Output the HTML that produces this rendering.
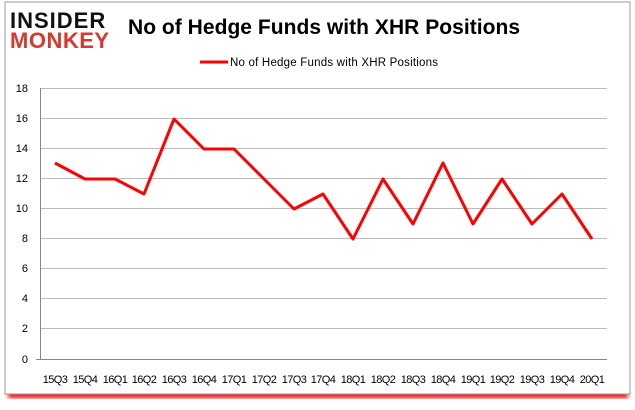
<!DOCTYPE html>
<html><head><meta charset="utf-8"><style>
body{margin:0;background:#fff;width:635px;height:405px;overflow:hidden;font-family:"Liberation Sans",sans-serif}
</style></head><body>
<svg width="635" height="405" xmlns="http://www.w3.org/2000/svg">
<defs><filter id="s" x="-5%" y="-5%" width="110%" height="115%"><feGaussianBlur stdDeviation="2"/></filter></defs>
<rect x="8" y="392" width="620" height="6" fill="#f00" filter="url(#s)"/>
<rect x="5" y="2" width="625" height="392" fill="#fff" stroke="#999" stroke-width="1"/>
<text x="10" y="28" font-family="Liberation Sans" font-weight="900" font-size="22" fill="#111" letter-spacing="1">INSIDER</text>
<text x="10" y="48" font-family="Liberation Sans" font-weight="900" font-size="22" fill="#d9382d" letter-spacing="0.5">MONKEY</text>
<text x="128" y="34" font-size="21" font-weight="bold" fill="#000" textLength="392">No of Hedge Funds with XHR Positions</text>
<line x1="200" y1="62" x2="228" y2="62" stroke="#f00" stroke-width="3"/>
<text x="230" y="66" font-size="11.5" fill="#000" textLength="208">No of Hedge Funds with XHR Positions</text>
<g stroke="#bbb" stroke-width="1">
<line x1="40" y1="88.5" x2="607" y2="88.5"/><line x1="40" y1="118.5" x2="607" y2="118.5"/><line x1="40" y1="148.5" x2="607" y2="148.5"/><line x1="40" y1="178.5" x2="607" y2="178.5"/><line x1="40" y1="208.5" x2="607" y2="208.5"/><line x1="40" y1="238.5" x2="607" y2="238.5"/><line x1="40" y1="268.5" x2="607" y2="268.5"/><line x1="40" y1="298.5" x2="607" y2="298.5"/><line x1="40" y1="328.5" x2="607" y2="328.5"/>
</g>
<g stroke="#888" stroke-width="1">
<line x1="40.5" y1="88" x2="40.5" y2="359"/><line x1="36" y1="359.5" x2="607" y2="359.5"/>
</g>
<g font-size="11" fill="#000" text-anchor="end">
<text x="28" y="92">18</text><text x="28" y="122">16</text><text x="28" y="152">14</text><text x="28" y="182">12</text><text x="28" y="212">10</text><text x="28" y="242">8</text><text x="28" y="272">6</text><text x="28" y="302">4</text><text x="28" y="332">2</text><text x="28" y="363">0</text>
</g>
<g font-size="11" fill="#000" text-anchor="middle" letter-spacing="-0.6">
<text x="55" y="383">15Q3</text><text x="85" y="383">15Q4</text><text x="115" y="383">16Q1</text><text x="144" y="383">16Q2</text><text x="174" y="383">16Q3</text><text x="204" y="383">16Q4</text><text x="234" y="383">17Q1</text><text x="264" y="383">17Q2</text><text x="294" y="383">17Q3</text><text x="323" y="383">17Q4</text><text x="353" y="383">18Q1</text><text x="383" y="383">18Q2</text><text x="413" y="383">18Q3</text><text x="443" y="383">18Q4</text><text x="473" y="383">19Q1</text><text x="502" y="383">19Q2</text><text x="532" y="383">19Q3</text><text x="562" y="383">19Q4</text><text x="592" y="383">20Q1</text>
</g>
<polyline fill="none" stroke="#f00" stroke-width="3" stroke-linejoin="round" points="55,163 85,179 115,179 144,194 174,119 204,149 234,149 264,179 294,209 323,194 353,239 383,179 413,224 443,163 473,224 502,179 532,224 562,194 592,239"/>
</svg>
</body></html>
